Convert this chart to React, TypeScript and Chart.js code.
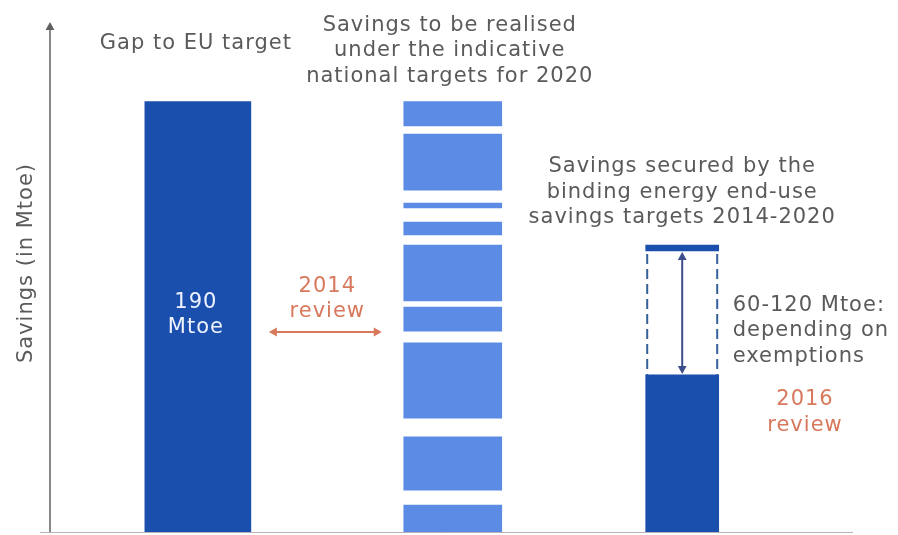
import { useEffect, useRef } from "react";
import { Chart, registerables } from "chart.js";

Chart.register(...registerables);

// ---- data ----
const categories = ["Gap to EU target", "Indicative national targets", "Binding end-use targets"];
const categoryPositions = [1, 2, 2.9];
const gapValue = 190;
const nationalSegments: [number, number][] = [
  [179.2, 190],
  [151.0, 175.7],
  [143.1, 145.3],
  [131.2, 136.9],
  [102.2, 126.8],
  [88.9, 99.5],
  [50.6, 83.7],
  [18.9, 42.3],
  [0, 12.3],
];
const bindingSecured = 69.6;
const bindingRangeTop: [number, number] = [124.2, 126.8];
const yMax = 225;
const xMin = 0.42;
const xMax = 3.57;

const gapTitle = ["Gap to EU target"];
const nationalTitle = ["Savings to be realised", "under the indicative", "national targets for 2020"];
const bindingTitle = ["Savings secured by the", "binding energy end-use", "savings targets 2014-2020"];
const gapLabel = ["190", "Mtoe"];
const review2014 = ["2014", "review"];
const review2016 = ["2016", "review"];
const rangeNote = ["60-120 Mtoe:", "depending on", "exemptions"];
const yTitle = "Savings (in Mtoe)";

const DARK = "#1b4fae";
const MID = "#5b8be4";
const GRAY = "#5a5a5a";
const ORANGE = "#d8785c";
const FONT = '21px "DejaVu Sans", Verdana, sans-serif';
const LINE_H = 25.5;

function drawLines(
  ctx: CanvasRenderingContext2D,
  lines: string[],
  x: number,
  y: number,
  color: string,
  align: CanvasTextAlign = "center"
) {
  ctx.save();
  ctx.font = FONT;
  (ctx as any).letterSpacing = "1px";
  ctx.fillStyle = color;
  ctx.textAlign = align;
  ctx.textBaseline = "alphabetic";
  lines.forEach((l, i) => ctx.fillText(l, x, y + i * LINE_H));
  ctx.restore();
}

function arrowHead(ctx: CanvasRenderingContext2D, x: number, y: number, angle: number, size: number, color: string) {
  ctx.save();
  ctx.translate(x, y);
  ctx.rotate(angle);
  ctx.fillStyle = color;
  ctx.beginPath();
  ctx.moveTo(0, 0);
  ctx.lineTo(-size, -size * 0.55);
  ctx.lineTo(-size, size * 0.55);
  ctx.closePath();
  ctx.fill();
  ctx.restore();
}

const annotations = {
  id: "annotations",
  afterDatasetsDraw(chart: any) {
    const { ctx, chartArea, scales } = chart;
    const xs = scales.x;
    const ys = scales.y;
    const bar = (i: number, thick: number) => {
      const c = xs.getPixelForValue(categoryPositions[i]);
      return { c, l: c - thick / 2, r: c + thick / 2 };
    };
    const b1 = bar(0, 106);
    const b2 = bar(1, 98);
    const b3 = bar(2, 73);

    // axes
    ctx.save();
    ctx.strokeStyle = "#5f5f5f";
    ctx.lineWidth = 1.5;
    ctx.beginPath();
    ctx.moveTo(chartArea.left, chartArea.bottom);
    ctx.lineTo(chartArea.left, chartArea.top + 6);
    ctx.stroke();
    arrowHead(ctx, chartArea.left, chartArea.top, -Math.PI / 2, 8, "#5f5f5f");
    ctx.strokeStyle = "#b5b5b5";
    ctx.lineWidth = 1;
    ctx.beginPath();
    ctx.moveTo(chartArea.left - 10, chartArea.bottom - 0.5);
    ctx.lineTo(chartArea.right, chartArea.bottom - 0.5);
    ctx.stroke();
    ctx.restore();

    // dashed range box
    const yTopRange = ys.getPixelForValue(bindingRangeTop[0]);
    const ySecured = ys.getPixelForValue(bindingSecured);
    ctx.save();
    ctx.strokeStyle = "#35609a";
    ctx.lineWidth = 2;
    ctx.setLineDash([10, 5]);
    [b3.l + 1.5, b3.r - 1.5].forEach((x) => {
      ctx.beginPath();
      ctx.moveTo(x, yTopRange + 3);
      ctx.lineTo(x, ySecured);
      ctx.stroke();
    });
    ctx.restore();

    // vertical double arrow
    ctx.save();
    ctx.strokeStyle = "#3c4d8c";
    ctx.lineWidth = 2;
    ctx.beginPath();
    ctx.moveTo(b3.c, yTopRange + 8);
    ctx.lineTo(b3.c, ySecured - 8);
    ctx.stroke();
    arrowHead(ctx, b3.c, yTopRange + 1, -Math.PI / 2, 8, "#3c4d8c");
    arrowHead(ctx, b3.c, ySecured - 1, Math.PI / 2, 8, "#3c4d8c");
    ctx.restore();

    // horizontal orange double arrow
    const mid12 = (b1.r + b2.l) / 2;
    const ay = 332;
    ctx.save();
    ctx.strokeStyle = ORANGE;
    ctx.lineWidth = 2;
    ctx.beginPath();
    ctx.moveTo(b1.r + 24, ay);
    ctx.lineTo(b2.l - 28, ay);
    ctx.stroke();
    arrowHead(ctx, b1.r + 18, ay, Math.PI, 8, ORANGE);
    arrowHead(ctx, b2.l - 22, ay, 0, 8, ORANGE);
    ctx.restore();

    // texts
    drawLines(ctx, gapTitle, b1.c - 2, 49, GRAY);
    drawLines(ctx, nationalTitle, b2.c - 3, 30.5, GRAY);
    drawLines(ctx, bindingTitle, b3.c, 172, GRAY);
    drawLines(ctx, gapLabel, b1.c - 2, 307.5, "#eef3ff");
    drawLines(ctx, review2014, mid12, 291.5, ORANGE);
    drawLines(ctx, rangeNote, b3.r + 14, 310.5, GRAY, "left");
    drawLines(ctx, review2016, 805, 405, ORANGE);

    // y title
    ctx.save();
    ctx.translate(32, 263);
    ctx.rotate(-Math.PI / 2);
    ctx.font = FONT;
    (ctx as any).letterSpacing = "1px";
    ctx.fillStyle = GRAY;
    ctx.textAlign = "center";
    ctx.textBaseline = "alphabetic";
    ctx.fillText(yTitle, 0, 0);
    ctx.restore();
  },
};

export default function App() {
  const ref = useRef<HTMLCanvasElement | null>(null);
  useEffect(() => {
    document.body.style.margin = "0";
    const canvas = ref.current!;
    const chart = new Chart(canvas, {
      type: "bar",
      data: {
        datasets: [
          {
            label: categories[0],
            data: [{ x: categoryPositions[0], y: [0, gapValue] }] as any,
            backgroundColor: DARK,
            barThickness: 106,
            grouped: false,
          } as any,
          {
            label: categories[1],
            data: nationalSegments.map((s) => ({ x: categoryPositions[1], y: s })) as any,
            backgroundColor: MID,
            barThickness: 98,
            grouped: false,
          } as any,
          {
            label: categories[2],
            data: [{ x: categoryPositions[2], y: [0, bindingSecured] }] as any,
            backgroundColor: DARK,
            barThickness: 73,
            grouped: false,
          } as any,
          {
            label: categories[2] + " range",
            data: [{ x: categoryPositions[2], y: bindingRangeTop }] as any,
            backgroundColor: DARK,
            barThickness: 73,
            grouped: false,
          } as any,
        ],
      },
      options: {
        animation: false,
        responsive: false,
        maintainAspectRatio: false,
        layout: { padding: { left: 50, right: 45, top: 22, bottom: 2 } },
        plugins: {
          legend: { display: false },
          tooltip: { enabled: false },
          title: { display: false },
        },
        scales: {
          x: { type: "linear", min: xMin, max: xMax, display: false, offset: false },
          y: { type: "linear", min: 0, max: yMax, display: false },
        },
      },
      plugins: [annotations],
    });
    return () => chart.destroy();
  }, []);
  return (
    <div style={{ width: 898, height: 535, background: "#fff" }}>
      <canvas ref={ref} width={898} height={535} style={{ display: "block" }} />
    </div>
  );
}
